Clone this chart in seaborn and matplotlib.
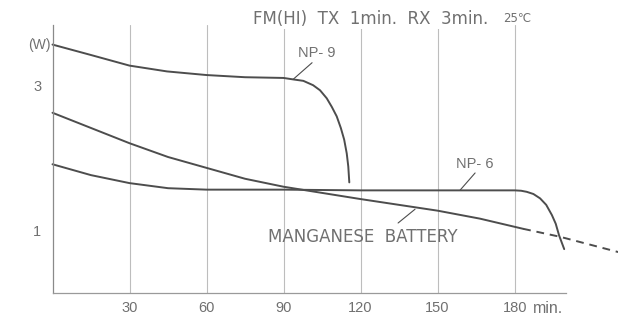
import matplotlib
matplotlib.use("Agg")
import matplotlib.pyplot as plt
import seaborn as sns

# values (minutes, watts)
np9_min = [0, 14.6, 30, 44.6, 60, 75, 90, 93.7, 97.7, 101.5, 104.2, 106.8, 108.8,
           110.7, 112.3, 113.6, 114.6, 115.2, 115.6]
np9_w = [3.57, 3.43, 3.28, 3.20, 3.15, 3.12, 3.11, 3.09, 3.07, 3.01, 2.94, 2.83, 2.71,
         2.58, 2.42, 2.26, 2.07, 1.89, 1.67]

np6_min = [0, 15, 30, 45, 60, 90, 120, 150, 180, 182.5, 184.7, 187.3, 189.9, 192.3,
           194.5, 196, 197.3, 199.3]
np6_w = [1.92, 1.77, 1.66, 1.59, 1.57, 1.57, 1.56, 1.56, 1.56, 1.555, 1.54, 1.51, 1.45,
         1.36, 1.22, 1.10, 0.94, 0.75]

mn_min = [0, 15, 30, 45, 60, 75, 90, 120, 150, 166.5, 183.3]
mn_w = [2.63, 2.42, 2.21, 2.02, 1.87, 1.72, 1.61, 1.44, 1.28, 1.17, 1.03]
mn_ext_min = [183.3, 197.7, 220.3]
mn_ext_w = [1.03, 0.92, 0.71]

xticks = [30, 60, 90, 120, 150, 180]
yticks = [1, 3]

sns.set_style("white")
plt.rcParams['font.family'] = ['Liberation Sans', 'DejaVu Sans']

line_c = '#4d4d4d'
text_c = '#707070'

fig = plt.figure(figsize=(6.18, 3.18), dpi=100)
ax = fig.add_axes([52.5 / 618, 25 / 318, 513.5 / 618, 268 / 318])

for t, w in [(np9_min, np9_w), (np6_min, np6_w), (mn_min, mn_w)]:
    sns.lineplot(x=t, y=w, ax=ax, color=line_c, lw=1.4, sort=False)
sns.lineplot(x=mn_ext_min, y=mn_ext_w, ax=ax, color=line_c, lw=1.4,
             linestyle=(0, (4, 3)), sort=False)
for ln in ax.lines:
    ln.set_clip_on(False)
    ln.set_solid_joinstyle('round')

ax.set_xlim(0, 200)
ax.set_ylim(0.145, 3.84)
ax.set_xticks(xticks)
ax.set_xticklabels([str(v) for v in xticks])
ax.set_yticks(yticks)
ax.set_yticklabels(['1', '3'])
ax.tick_params(length=0, labelsize=10.5, labelcolor=text_c)
ax.tick_params(axis='x', pad=6)
ax.tick_params(axis='y', pad=8)
for v in xticks:
    ax.axvline(v, color='#bdbdbd', lw=0.8, zorder=0)
sns.despine(ax=ax)
ax.spines['left'].set_color('#8a8a8a')
ax.spines['bottom'].set_color('#9a9a9a')
ax.spines['left'].set_linewidth(0.9)
ax.spines['bottom'].set_linewidth(0.9)

ax.text(187.2, -0.056, 'min.', transform=ax.get_xaxis_transform(),
        ha='left', va='center', fontsize=11.5, color=text_c)
ax.text(-5.3, 3.57, '(W)', ha='center', va='center', fontsize=10, color=text_c)

fig.text(253 / 618, 1 - 19 / 318, 'FM(HI)  TX  1min.  RX  3min.', ha='left', va='center',
         fontsize=12, color=text_c, family=['DejaVu Sans'],
         bbox=dict(facecolor='white', edgecolor='none', pad=1))
fig.text(503 / 618, 1 - 19 / 318, '25℃', ha='left', va='center',
         fontsize=8.5, color=text_c, family=['DejaVu Sans'])

arrow = dict(arrowstyle='-', color=line_c, lw=0.8, shrinkA=0, shrinkB=0)
ax.annotate('', xy=(93.7, 3.09), xytext=(101.1, 3.32), arrowprops=arrow)
ax.text(103.0, 3.46, 'NP- 9', ha='center', va='center', fontsize=10.5, color=text_c)
ax.annotate('', xy=(158.8, 1.565), xytext=(164.6, 1.80), arrowprops=arrow)
ax.text(164.6, 1.93, 'NP- 6', ha='center', va='center', fontsize=10.5, color=text_c)
ax.annotate('', xy=(141.2, 1.30), xytext=(134.6, 1.11), arrowprops=arrow)
ax.text(120.8, 0.92, 'MANGANESE  BATTERY', ha='center', va='center',
        fontsize=12, color=text_c, family=['DejaVu Sans'])

fig.savefig('out.png', dpi=100)
